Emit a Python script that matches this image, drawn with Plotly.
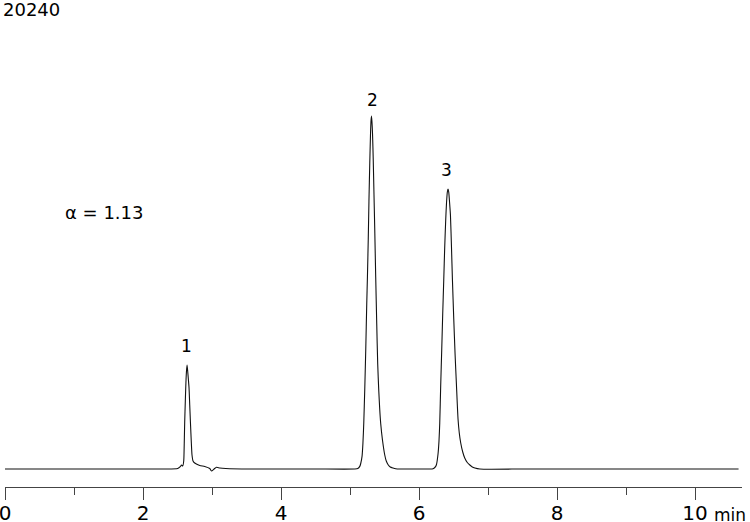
import plotly.graph_objects as go

# chromatogram trace (time in min, detector signal)
time_min = [
    0.0, 1.0, 2.0, 2.314, 2.503, 2.540, 2.557, 2.575, 2.590, 2.594,
    2.604, 2.613, 2.619, 2.629, 2.638, 2.646, 2.657, 2.667, 2.677, 2.687,
    2.699, 2.710, 2.725, 2.749, 2.822, 2.894, 2.967, 2.991, 3.030, 3.064,
    3.114, 3.200, 3.550, 4.000, 4.500, 5.068, 5.112, 5.141, 5.155, 5.174,
    5.187, 5.199, 5.213, 5.228, 5.242, 5.252, 5.264, 5.274, 5.286, 5.296,
    5.303, 5.310, 5.317, 5.326, 5.336, 5.346, 5.358, 5.372, 5.387, 5.401,
    5.416, 5.430, 5.445, 5.470, 5.503, 5.525, 5.552, 5.583, 5.623, 5.662,
    5.720, 6.000, 6.155, 6.203, 6.228, 6.252, 6.275, 6.289, 6.300, 6.314,
    6.329, 6.343, 6.358, 6.372, 6.387, 6.398, 6.410, 6.420, 6.430, 6.442,
    6.455, 6.470, 6.484, 6.503, 6.522, 6.542, 6.565, 6.583, 6.604, 6.633,
    6.662, 6.699, 6.736, 6.772, 6.809, 6.881, 7.500, 8.000, 9.000, 10.000,
    10.630,
]
signal = [
    0, 0, 0, 0, 0.5, 2.3, 4, 3, 8, 15,
    47, 68, 81, 97, 104, 99, 90, 81, 64, 47,
    28, 14, 8, 6, 3.5, 2.5, 0.5, -2.0, 0, 1.8,
    1, 0.5, 0, 0, 0, 0, 0.4, 2.6, 5.5, 12.6,
    26, 46, 79, 120, 165, 192, 230, 268, 306, 333,
    347, 353, 348, 335, 310, 278, 240, 192, 145, 105,
    79, 60, 45, 29, 14, 8, 4.3, 2, 1, 0.3,
    0, 0, 0, 0.3, 1.5, 4.3, 15, 28, 46, 84,
    120, 155, 189, 222, 250, 266, 277, 280, 277, 267,
    254, 222, 189, 150, 115, 84, 50, 36, 26, 17,
    11, 6.5, 4, 2, 1, 0, 0, 0, 0, 0,
    0,
]

peak_labels = ["1", "2", "3"]
peak_label_t = [2.623, 5.319, 6.401]
peak_label_y = [123, 369, 299]

fig = go.Figure()
fig.add_trace(go.Scatter(
    x=time_min, y=signal, mode="lines",
    line=dict(color="#111111", width=1.1, shape="spline", smoothing=0.6),
    hoverinfo="skip", showlegend=False,
))

for lab, t, y in zip(peak_labels, peak_label_t, peak_label_y):
    fig.add_annotation(x=t, y=y, text=lab, showarrow=False,
                       font=dict(family="DejaVu Sans", size=17, color="black"))

fig.add_annotation(x=1.428, y=257, text="α = 1.13", showarrow=False,
                   font=dict(family="DejaVu Sans", size=18, color="black"))
fig.add_annotation(xref="paper", yref="paper", x=0.0366, y=1.001,
                   xanchor="center", yanchor="middle",
                   text="20240", showarrow=False,
                   font=dict(family="DejaVu Sans", size=18, color="black"))
fig.add_annotation(xref="paper", yref="paper", x=0.984, y=-0.058,
                   xanchor="center", yanchor="middle",
                   text="min", showarrow=False,
                   font=dict(family="DejaVu Sans", size=17, color="black"))

fig.update_xaxes(
    range=[0, 10.68], showgrid=False, zeroline=False, automargin=False,
    showline=True, linecolor="#444444", linewidth=1,
    ticks="outside", ticklen=12, tickwidth=1, tickcolor="#444444",
    tick0=0, dtick=2, ticklabeloverflow="allow", ticklabelstandoff=-4,
    minor=dict(dtick=1, ticks="outside", ticklen=7, tickcolor="#444444"),
    tickfont=dict(family="DejaVu Sans", size=20, color="black"),
)
fig.update_yaxes(range=[-18, 459], visible=False, automargin=False)

fig.update_layout(
    width=750, height=522,
    margin=dict(l=5, r=8, t=10, b=35),
    paper_bgcolor="white", plot_bgcolor="white",
)

# drop the browser's default 8px page margin so the figure sits at 0,0
fig.write_html("out.html", config={"displayModeBar": False},
               post_script="document.body.style.margin='0';"
                           "document.body.style.overflow='hidden';")
